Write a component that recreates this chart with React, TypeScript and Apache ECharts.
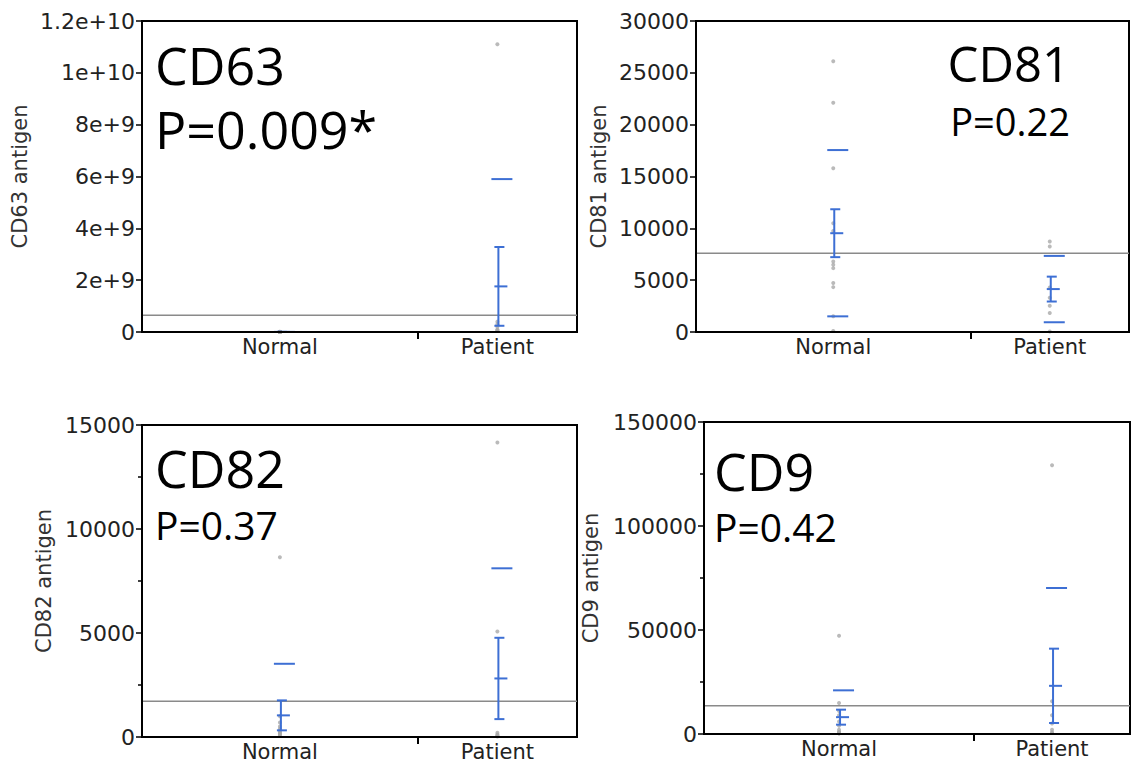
import React, { useEffect, useRef } from "react";
import * as echarts from "echarts";

// ---- categories & layout fractions (group widths proportional to n) ----
const groups = ["Normal", "Patient"];
const groupX = [0.317, 0.817];
const groupBoundary = [0.634];

// ---- texts ----
const panelNames = ["CD63", "CD81", "CD82", "CD9"];
const axisTitles = ["CD63 antigen", "CD81 antigen", "CD82 antigen", "CD9 antigen"];
const pValues = ["P=0.009*", "P=0.22", "P=0.37", "P=0.42"];

// ---- CD63 ----
const cd63Normal = [6e6, 5e6, 4e6, 4e6, 3e6, 3e6, 2e6, 2e6, 1e6, 1e6, 5e5, 5e5];
const cd63Patient = [1.11e10, 4.0e8, 3.0e8, 2.0e8, 1.0e8, 7e7, 4e7];
const cd63Mean = [2.7e6, 1.76e9];
const cd63Sd = [1.8e6, 4.14e9];
const cd63Se = [5e5, 1.52e9];
const cd63GrandMean = 6.43e8;
const cd63Ticks = ["0", "2e+9", "4e+9", "6e+9", "8e+9", "1e+10", "1.2e+10"];

// ---- CD81 ----
const cd81Normal = [26120, 22110, 15790, 10500, 9740, 6800, 6480, 6160, 4720, 4330, 1510, 100];
const cd81Patient = [8727, 8246, 4300, 3300, 2535, 1830, 42];
const cd81Mean = [9530, 4140];
const cd81Sd = [8020, 3200];
const cd81Se = [2310, 1200];
const cd81GrandMean = 7604;
const cd81Ticks = ["0", "5000", "10000", "15000", "20000", "25000", "30000"];

// ---- CD82 ----
const cd82Normal = [8640, 1000, 700, 500, 400, 300, 250, 200, 160, 150, 100, 80];
const cd82Patient = [14160, 5070, 200, 120, 80, 50, 25];
const cd82Mean = [1040, 2815];
const cd82Sd = [2480, 5295];
const cd82Se = [720, 1955];
const cd82GrandMean = 1713;
const cd82Ticks = ["0", "5000", "10000", "15000"];

// ---- CD9 ----
const cd9Normal = [47280, 14900, 11000, 9000, 6000, 4000, 2000, 1000, 960, 500, 300, 200];
const cd9Patient = [129170, 15700, 9000, 5000, 2000, 800, 450];
const cd9Mean = [8095, 23160];
const cd9Sd = [12895, 47030];
const cd9Se = [3605, 17870];
const cd9GrandMean = 13620;
const cd9Ticks = ["0", "50000", "100000", "150000"];

const BLUE = "#3d6fd4";
const GRAY_PT = "#a9a9a9";
const GRAY_LINE = "#8a8a8a";
const AXIS_FONT = "DejaVu Sans";
const TITLE_FONT = "Open Sans";

export default function App() {
  const ref = useRef<HTMLDivElement>(null);

  useEffect(() => {
    if (!ref.current) return;
    const chart = echarts.init(ref.current, undefined, { renderer: "svg" });

    const panels = [
      { normal: cd63Normal, patient: cd63Patient, mean: cd63Mean, sd: cd63Sd, se: cd63Se, gm: cd63GrandMean, ticks: cd63Ticks, max: 1.2e10, interval: 2e9, minor: false,
        grid: { left: 142, top: 21, width: 435, height: 311 }, nameGap: 112 },
      { normal: cd81Normal, patient: cd81Patient, mean: cd81Mean, sd: cd81Sd, se: cd81Se, gm: cd81GrandMean, ticks: cd81Ticks, max: 30000, interval: 5000, minor: false,
        grid: { left: 696, top: 21, width: 433, height: 311 }, nameGap: 87 },
      { normal: cd82Normal, patient: cd82Patient, mean: cd82Mean, sd: cd82Sd, se: cd82Se, gm: cd82GrandMean, ticks: cd82Ticks, max: 15000, interval: 5000, minor: true,
        grid: { left: 142, top: 425, width: 435, height: 312 }, nameGap: 88 },
      { normal: cd9Normal, patient: cd9Patient, mean: cd9Mean, sd: cd9Sd, se: cd9Se, gm: cd9GrandMean, ticks: cd9Ticks, max: 150000, interval: 50000, minor: true,
        grid: { left: 704, top: 422, width: 426, height: 312 }, nameGap: 103 },
    ];

    const grids: any[] = [];
    const xAxes: any[] = [];
    const yAxes: any[] = [];
    const series: any[] = [];

    panels.forEach((p, i) => {
      grids.push({ ...p.grid, show: true, borderColor: "#000", borderWidth: 2, backgroundColor: "transparent", containLabel: false });
      xAxes.push({
        type: "value", gridIndex: i, min: 0, max: 1, z: 5,
        axisLine: { show: true, onZero: false, lineStyle: { color: "#000", width: 2 } },
        axisTick: { show: true, customValues: groupBoundary, length: 7, lineStyle: { color: "#000", width: 2 } },
        axisLabel: {
          show: true, customValues: groupX, margin: 4,
          fontFamily: AXIS_FONT, fontSize: 21, color: "#222",
          formatter: (v: number) => {
            let best = 0;
            groupX.forEach((g, k) => { if (Math.abs(g - v) < Math.abs(groupX[best] - v)) best = k; });
            return groups[best];
          },
        },
        splitLine: { show: false },
      });
      yAxes.push({
        type: "value", gridIndex: i, min: 0, max: p.max, interval: p.interval, z: 5,
        name: axisTitles[i], nameLocation: "middle", nameGap: p.nameGap,
        nameTextStyle: { fontFamily: AXIS_FONT, fontSize: 21, color: "#333" },
        axisLine: { show: true, onZero: false, lineStyle: { color: "#000", width: 2 } },
        axisTick: { show: true, length: 6, lineStyle: { color: "#000", width: 1.5 } },
        minorTick: { show: p.minor, splitNumber: 2, length: 4, lineStyle: { color: "#000", width: 1.5 } },
        axisLabel: {
          fontFamily: AXIS_FONT, fontSize: 22, color: "#222", margin: 7,
          formatter: (v: number) => p.ticks[Math.round(v / p.interval)] ?? "",
        },
        splitLine: { show: false },
        minorSplitLine: { show: false },
      });

      series.push({
        type: "scatter", xAxisIndex: i, yAxisIndex: i, symbol: "circle", symbolSize: 4,
        itemStyle: { color: GRAY_PT }, z: 2,
        data: p.normal.map((v) => [groupX[0], v]),
      });
      series.push({
        type: "scatter", xAxisIndex: i, yAxisIndex: i, symbol: "circle", symbolSize: 4,
        itemStyle: { color: GRAY_PT }, z: 2,
        data: p.patient.map((v) => [groupX[1], v]),
      });
      series.push({
        type: "line", xAxisIndex: i, yAxisIndex: i, symbol: "none", z: 3,
        lineStyle: { color: GRAY_LINE, width: 1.5 },
        data: [[0, p.gm], [1, p.gm]],
      });
      series.push({
        type: "custom", xAxisIndex: i, yAxisIndex: i, clip: true, z: 4,
        data: groupX.map((x, g) => [x, p.mean[g], p.sd[g], p.se[g]]),
        renderItem: (_params: any, api: any) => {
          const x = api.value(0), m = api.value(1), sd = api.value(2), se = api.value(3);
          const c = api.coord([x, m]);
          const px = c[0], pm = c[1];
          const pu = api.coord([x, m + sd])[1];
          const pl = api.coord([x, m - sd])[1];
          const eu = api.coord([x, m + se])[1];
          const el = api.coord([x, m - se])[1];
          const st = { stroke: BLUE, lineWidth: 2 };
          const seg = (x1: number, y1: number, x2: number, y2: number) => ({
            type: "line", shape: { x1, y1, x2, y2 }, style: st,
          });
          return {
            type: "group",
            children: [
              seg(px - 6, pu, px + 15, pu),
              seg(px - 6, pl, px + 15, pl),
              seg(px + 1, eu, px + 1, el),
              seg(px - 3, eu, px + 7, eu),
              seg(px - 3, el, px + 7, el),
              seg(px - 3, pm, px + 10, pm),
            ],
          };
        },
      });
    });

    const txt = (text: string, x: number, y: number, size: number, align: string) => ({
      type: "text", x, y, z: 10,
      style: { text, fontFamily: TITLE_FONT, fontSize: size, fontWeight: 500, fill: "#000", align, verticalAlign: "middle" },
    });

    chart.setOption({
      animation: false,
      backgroundColor: "#fff",
      grid: grids,
      xAxis: xAxes,
      yAxis: yAxes,
      series,
      graphic: [
        txt(panelNames[0], 155, 64, 52, "left"),
        txt(pValues[0], 155, 128, 52, "left"),
        txt(panelNames[1], 1070, 63, 49, "right"),
        txt(pValues[1], 1070, 121, 38, "right"),
        txt(panelNames[2], 155, 467, 52, "left"),
        txt(pValues[2], 155, 524, 39, "left"),
        txt(panelNames[3], 714, 470, 52, "left"),
        txt(pValues[3], 714, 526, 39, "left"),
      ],
    });

    return () => chart.dispose();
  }, []);

  return <div ref={ref} style={{ position: "absolute", left: 0, top: 0, width: 1132, height: 766 }} />;
}
